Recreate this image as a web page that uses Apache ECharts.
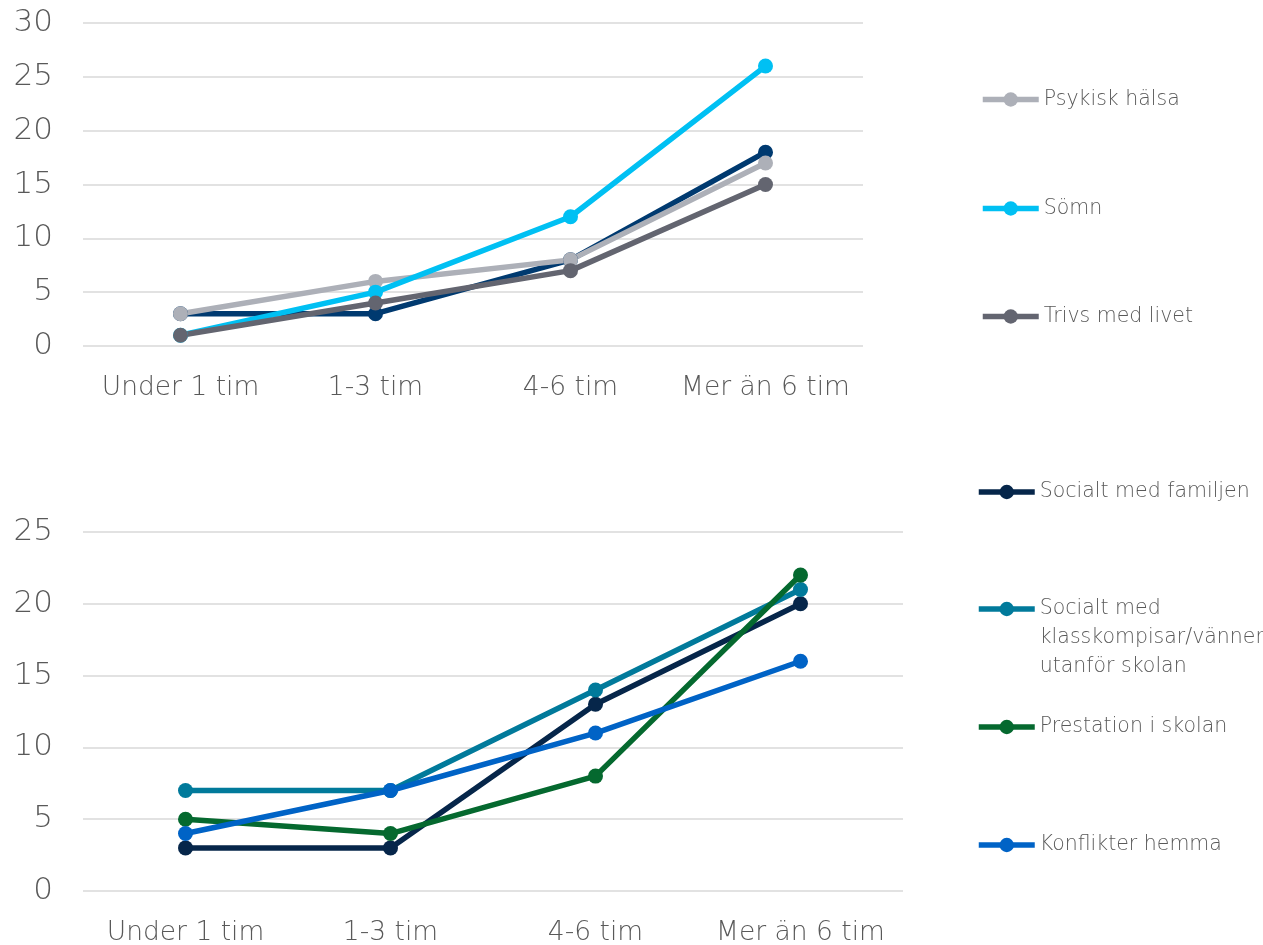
<!DOCTYPE html>
<html>
<head>
<meta charset="utf-8">
<script src="https://cdn.jsdelivr.net/npm/echarts@6/dist/echarts.min.js"></script>
<style>
  html, body { margin: 0; padding: 0; background: #fff; }
  #chart { width: 1263px; height: 945px; }
</style>
</head>
<body>
<div id="chart"></div>
<script>
// Categories: daily screen time
const categories = ['Under 1 tim', '1-3 tim', '4-6 tim', 'Mer än 6 tim'];

// Upper panel: health and wellbeing
const topNames = ['Fysisk hälsa', 'Psykisk hälsa', 'Sömn', 'Trivs med livet'];
const fysiskHalsa = [3, 3, 8, 18];
const psykiskHalsa = [3, 6, 8, 17];
const somn = [1, 5, 12, 26];
const trivsMedLivet = [1, 4, 7, 15];

// Lower panel: social life, school and home
const bottomNames = [
  'Socialt med familjen',
  'Socialt med klasskompisar/vänner utanför skolan',
  'Prestation i skolan',
  'Konflikter hemma'
];
const socialFamiljen = [3, 3, 13, 20];
const socialVanner = [7, 7, 14, 21];
const prestationSkolan = [5, 4, 8, 22];
const konflikterHemma = [4, 7, 11, 16];

// Y axis scales
const topMax = 30;
const bottomMax = 25;
const yStep = 5;

const topColors = ['#003A70', '#ADB0B8', '#00C0F3', '#636570'];
const bottomColors = ['#06264A', '#017A9B', '#05692F', '#0063C6'];

const FONT = 'DejaVu Sans';
const WEIGHT = 200;
const TEXT = '#595959';
const GRID_LINE = '#D9D9D9';

function xAxisFor(gridIndex) {
  return {
    type: 'category',
    gridIndex: gridIndex,
    data: categories,
    boundaryGap: true,
    axisLine: { show: false },
    axisTick: { show: false },
    axisLabel: { interval: 0, color: TEXT, fontFamily: FONT, fontWeight: WEIGHT, fontSize: 26.5, margin: 29 }
  };
}
function yAxisFor(gridIndex, max) {
  return {
    type: 'value',
    gridIndex: gridIndex,
    min: 0,
    max: max,
    interval: yStep,
    axisLine: { show: false },
    axisTick: { show: false },
    splitLine: { lineStyle: { color: GRID_LINE, width: 1.5 } },
    axisLabel: { color: TEXT, fontFamily: FONT, fontWeight: WEIGHT, fontSize: 31, margin: 30 }
  };
}
function lineSeries(name, data, color, gridIndex) {
  return {
    name: name,
    type: 'line',
    xAxisIndex: gridIndex,
    yAxisIndex: gridIndex,
    data: data,
    symbol: 'circle',
    symbolSize: 15,
    lineStyle: { color: color, width: 5.5 },
    itemStyle: { color: color },
    emphasis: { disabled: true },
    animation: false
  };
}

// Wrapped legend label; the leading blank lines keep the first line level with the icon
function legendLabel(n) {
  if (n === bottomNames[1]) {
    return '\n\nSocialt med\nklasskompisar/vänner\nutanför skolan';
  }
  return n;
}

// One legend block per entry so each can sit at its own height
function legendItem(name, left, centerY, lines) {
  const lh = 29;
  const total = lines === 1 ? 1 : lines * 2 - 1;
  return {
    orient: 'vertical',
    left: left,
    top: centerY - (lh * total) / 2,
    padding: 0,
    itemWidth: 56,
    itemHeight: 18,
    selectedMode: false,
    data: [name],
    formatter: legendLabel,
    lineStyle: { width: 5.5 },
    textStyle: { color: TEXT, fontFamily: FONT, fontWeight: WEIGHT, fontSize: 20.5, lineHeight: lh }
  };
}

const topSeriesData = [fysiskHalsa, psykiskHalsa, somn, trivsMedLivet];
const bottomSeriesData = [socialFamiljen, socialVanner, prestationSkolan, konflikterHemma];

const topLegendY = [-9.5, 99.5, 208.5, 316.5];
const bottomLegendY = [492, 609, 727, 845];
const bottomLegendLines = [1, 3, 1, 1];

const option = {
  backgroundColor: '#ffffff',
  grid: [
    { left: 83, width: 780, top: 23, height: 323, outerBoundsMode: 'none' },
    { left: 83, width: 820, top: 532, height: 359, outerBoundsMode: 'none' }
  ],
  xAxis: [xAxisFor(0), xAxisFor(1)],
  yAxis: [yAxisFor(0, topMax), yAxisFor(1, bottomMax)],
  legend: [
    ...topNames.map((n, i) => legendItem(n, 980, topLegendY[i], 1)),
    ...bottomNames.map((n, i) => legendItem(n, 976, bottomLegendY[i], bottomLegendLines[i]))
  ],
  series: [
    ...topNames.map((n, i) => lineSeries(n, topSeriesData[i], topColors[i], 0)),
    ...bottomNames.map((n, i) => lineSeries(n, bottomSeriesData[i], bottomColors[i], 1))
  ]
};

const chart = echarts.init(document.getElementById('chart'), null, { renderer: 'canvas' });
chart.setOption(option);
</script>
</body>
</html>
